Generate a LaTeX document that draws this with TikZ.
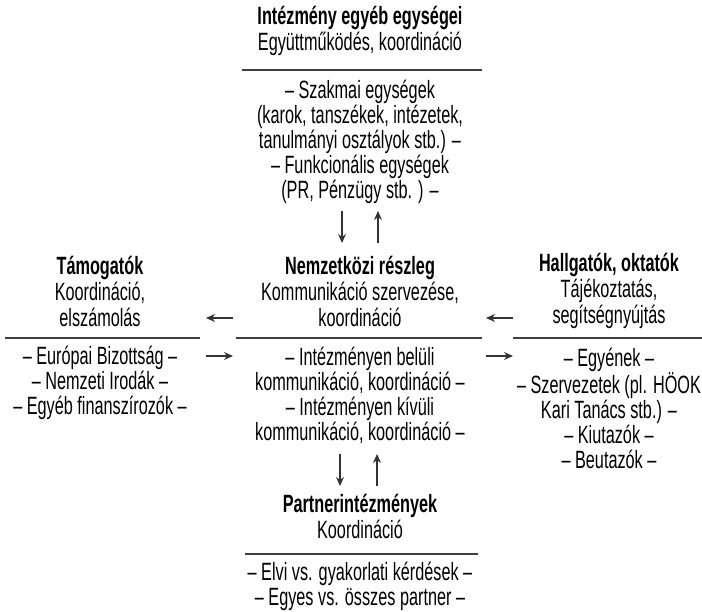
\documentclass[tikz,border=0pt]{standalone}
\usepackage{fontspec}
\setmainfont{Liberation Sans}[FakeStretch=0.65]
\usetikzlibrary{arrows.meta}
\begin{document}
\begin{tikzpicture}[x=1pt,y=-1pt,
  txt/.style={font=\fontsize{25}{25}\selectfont, align=center, inner sep=0pt, text=black},
  hdr/.style={font=\fontsize{25}{26}\selectfont, align=center, inner sep=0pt, text=black},
  rule/.style={line width=1.5pt, black!75},
  flow/.style={line width=1.2pt, black!80, -{Stealth[length=9pt,width=8pt]}}]
\useasboundingbox (0,0) rectangle (702,611);

% top block
\node[hdr] (tophead) at (360,31) {\textbf{Intézmény egyéb egységei}\\Együttműködés, koordináció};
\coordinate (topL) at (242,70); \coordinate (topR) at (482,70);
\draw[rule] (topL) -- (topR);
\node[txt] (topbody) at (360,142) {-- Szakmai egységek\\(karok, tanszékek, intézetek,\\tanulmányi osztályok stb.) --\\-- Funkcionális egységek\\(PR, Pénzügy stb. ) --};

% centre block
\node[hdr] (cenhead) at (360,291) {\textbf{Nemzetközi részleg}\\Kommunikáció szervezése,\\koordináció};
\coordinate (cenL) at (236,338); \coordinate (cenR) at (482,338);
\draw[rule] (cenL) -- (cenR);
\node[txt] (cenbody) at (360,395.5) {-- Intézményen belüli\\kommunikáció, koordináció --\\-- Intézményen kívüli\\kommunikáció, koordináció --};

% left block
\node[hdr] (lefthead) at (100,291) {\textbf{Támogatók}\\Koordináció,\\elszámolás};
\coordinate (leftL) at (5,338); \coordinate (leftR) at (200,338);
\draw[rule] (leftL) -- (leftR);
\node[txt] (leftbody) at (100,383) {-- Európai Bizottság --\\-- Nemzeti Irodák --\\-- Egyéb finanszírozók --};

% right block
\node[hdr] (righthead) at (609,291) {\textbf{Hallgatók, oktatók}\\Tájékoztatás,\\segítségnyújtás};
\coordinate (rightL) at (513,338); \coordinate (rightR) at (702,338);
\draw[rule] (rightL) -- (rightR);
\node[txt] (rightbody) at (609,408) {-- Egyének --\\-- Szervezetek (pl. HÖOK\\Kari Tanács stb.) --\\-- Kiutazók --\\-- Beutazók --};

% bottom block
\node[hdr] (bothead) at (360,516) {\textbf{Partnerintézmények}\\Koordináció};
\coordinate (botL) at (245,554); \coordinate (botR) at (478,554);
\draw[rule] (botL) -- (botR);
\node[txt] (botbody) at (360,586) {-- Elvi vs. gyakorlati kérdések --\\-- Egyes vs. összes partner --};

% arrows top
\coordinate (a1s) at (342,211); \coordinate (a1e) at (342,243);
\coordinate (a2s) at (378,243); \coordinate (a2e) at (378,211);
\draw[flow] (a1s) -- (a1e);
\draw[flow] (a2s) -- (a2e);
% arrows bottom
\coordinate (b1s) at (340,454); \coordinate (b1e) at (340,486);
\coordinate (b2s) at (377,486); \coordinate (b2e) at (377,454);
\draw[flow] (b1s) -- (b1e);
\draw[flow] (b2s) -- (b2e);
% arrows left
\coordinate (l1s) at (233,318); \coordinate (l1e) at (206,318);
\coordinate (l2s) at (206,356); \coordinate (l2e) at (233,356);
\draw[flow] (l1s) -- (l1e);
\draw[flow] (l2s) -- (l2e);
% arrows right
\coordinate (r1s) at (513,318); \coordinate (r1e) at (486,318);
\coordinate (r2s) at (486,356); \coordinate (r2e) at (513,356);
\draw[flow] (r1s) -- (r1e);
\draw[flow] (r2s) -- (r2e);
\end{tikzpicture}
\end{document}
